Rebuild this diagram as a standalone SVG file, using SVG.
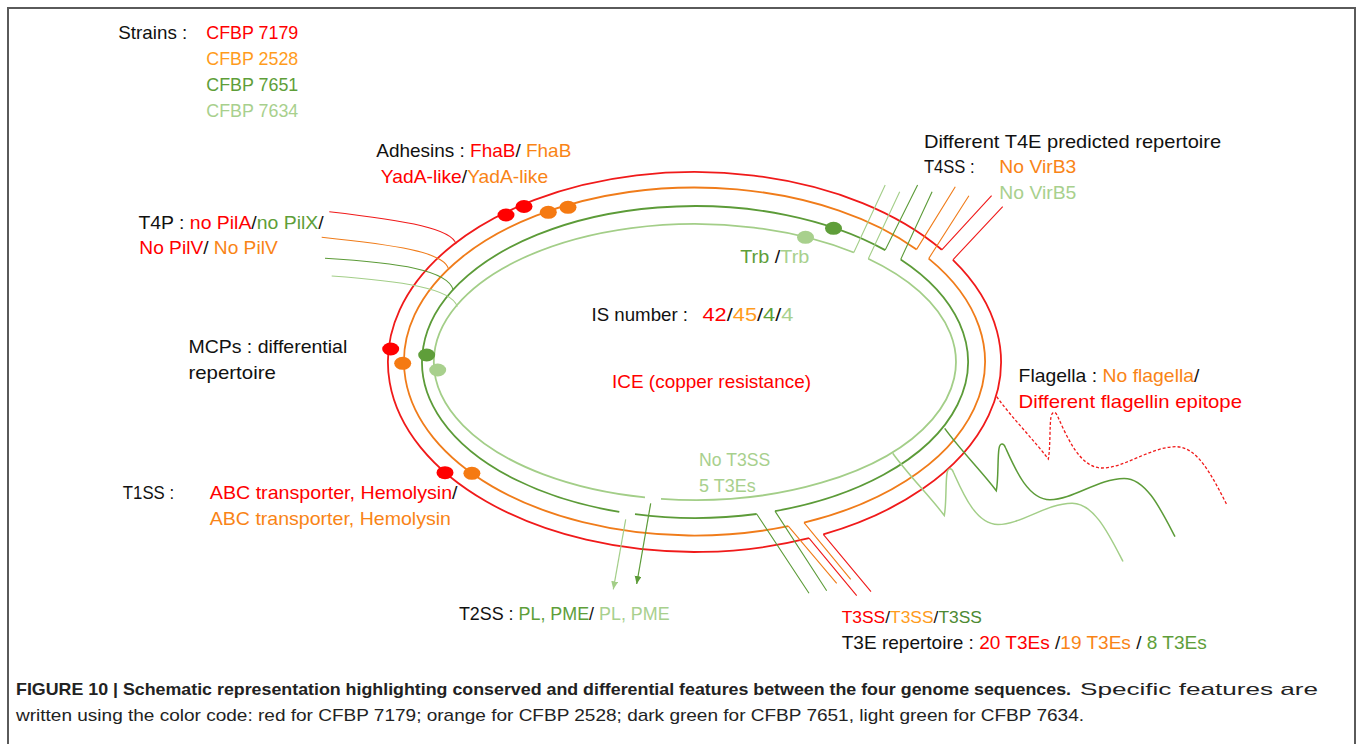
<svg xmlns="http://www.w3.org/2000/svg" width="1358" height="744" viewBox="0 0 1358 744">
<defs>
<style>
text{font-family:"Liberation Sans",Arial,sans-serif;font-size:19px;fill:#111}
.k{fill:#111}.r{fill:#ff0000}.o{fill:#f98416}.o2{fill:#ff9c1c}.g{fill:#5e9e39}.g2{fill:#4e8a33}.l{fill:#a8d08d}
.cap{font-family:"Liberation Sans Narrow","Liberation Sans",Arial,sans-serif;font-size:16.2px;fill:#222}
.ring{fill:none;stroke-width:1.8}
.br{fill:none;stroke-width:1.1}
.sr{stroke:#f01a1a}.so{stroke:#f07c1a}.sg{stroke:#5c9b38}.sl{stroke:#a3ce88}
.dr{fill:#ff0000}.do{fill:#f57a12}.dg{fill:#5f9e3a}.dl{fill:#a8d08d}
</style>
<marker id="ahL" markerUnits="userSpaceOnUse" markerWidth="9" markerHeight="8" refX="8" refY="3.5" orient="auto"><path d="M0,0 L8,3.5 L0,7 z" fill="#a3ce88"/></marker>
<marker id="ahG" markerUnits="userSpaceOnUse" markerWidth="9" markerHeight="8" refX="8" refY="3.5" orient="auto"><path d="M0,0 L8,3.5 L0,7 z" fill="#5c9b38"/></marker>
<path id="flag" d="M996.7,396.7 C1012,418 1034,440 1048.3,459 C1050.5,448 1049.5,425 1051,417 C1052,411 1055.5,411 1057.5,416 C1067,437 1080,468 1102,468 C1125,468 1150,447 1176,446.7 C1198,446.5 1213,478 1227,505"/>
</defs>
<rect width="1358" height="744" fill="#fff"/>
<path id="frame" d="M8,744 V8 H1355 V744" fill="none" stroke="#5a5a5a" stroke-width="2"/>

<g id="legend">
<text x="118.3" y="39" textLength="69" lengthAdjust="spacingAndGlyphs">Strains :</text>
<text x="206.3" y="39" class="r" textLength="92" lengthAdjust="spacingAndGlyphs">CFBP 7179</text>
<text x="206.3" y="65" class="o2" textLength="92" lengthAdjust="spacingAndGlyphs">CFBP 2528</text>
<text x="206.3" y="91" class="g" textLength="92" lengthAdjust="spacingAndGlyphs">CFBP 7651</text>
<text x="206.3" y="117" class="l" textLength="92" lengthAdjust="spacingAndGlyphs">CFBP 7634</text>
</g>

<g id="genome-rings">
<path id="ring-7179" class="ring sr" d="M941.8,249.8 A306.5,190 0 1 0 809,538.2 M823.3,534.4 A306.5,190 0 0 0 952.9,259.8"/>
<path id="ring-2528" class="ring so" d="M916.6,249.4 A290.5,174 0 1 0 788.3,526.2 M804,522.7 A290.5,174 0 0 0 928.7,258.6"/>
<path id="ring-7651" class="ring sg" d="M885.2,250.1 A273,156 0 1 0 619.3,511.9 M635,514.2 A273,156 0 0 0 756.7,514 M775,511.1 A273,156 0 0 0 900.7,259.4"/>
<path id="ring-7634" class="ring sl" d="M853.8,252.5 A261,138 0 1 0 645,497.4 M661,498.8 A261,138 0 0 0 868.3,258.8"/>
</g>

<g id="adhesins">
<text x="376.3" y="156.7" textLength="195" lengthAdjust="spacingAndGlyphs">Adhesins : <tspan class="r">FhaB</tspan>/ <tspan class="o">FhaB</tspan></text>
<text x="380.8" y="182.7" textLength="167.4" lengthAdjust="spacingAndGlyphs"><tspan class="r">YadA-like</tspan>/<tspan class="o">YadA-like</tspan></text>
<ellipse class="dr" cx="506" cy="215" rx="8.5" ry="6.5"/>
<ellipse class="dr" cx="524" cy="206.5" rx="8.5" ry="6.5"/>
<ellipse class="do" cx="548.3" cy="212.3" rx="8.5" ry="6.5"/>
<ellipse class="do" cx="568" cy="207.3" rx="8.5" ry="6.5"/>
</g>

<g id="t4p">
<text x="138.4" y="228.7" textLength="185.3" lengthAdjust="spacingAndGlyphs">T4P : <tspan class="r">no PilA</tspan>/<tspan class="g">no PilX</tspan>/</text>
<text x="139.3" y="254.3" textLength="138.4" lengthAdjust="spacingAndGlyphs"><tspan class="r">No PilV</tspan>/ <tspan class="o">No PilV</tspan></text>
<path class="br sr" d="M329.3,211.7 C410,221 452,229 456,244"/>
<path class="br so" d="M321.7,237.3 C395,245 443,252 448.3,268.3"/>
<path class="br sg" d="M325,258.3 C400,263 448,270 453.3,290"/>
<path class="br sl" d="M331.7,276 C400,281 452,288 457.3,306.7"/>
</g>

<g id="t4ss">
<text x="923.9" y="148.3" textLength="297.3" lengthAdjust="spacingAndGlyphs">Different T4E predicted repertoire</text>
<text x="923.9" y="172.7" textLength="50.7" lengthAdjust="spacingAndGlyphs">T4SS :</text>
<text x="999.3" y="172.7" class="o" textLength="77" lengthAdjust="spacingAndGlyphs">No VirB3</text>
<text x="999.3" y="198.7" class="l" textLength="77" lengthAdjust="spacingAndGlyphs">No VirB5</text>
<path class="br sr" d="M941.8,249.8 L991.6,195.7 M952.9,259.8 L1002.7,206.7"/>
<path class="br so" d="M916.6,249.4 L955.3,186.7 M928.7,258.6 L968.9,195.7"/>
<path class="br sg" d="M885.2,250.1 L917.6,185 M900.7,259.4 L932.1,191.7"/>
<path class="br sl" d="M853.8,252.5 L885.2,185 M868.3,258.8 L899.7,191.7"/>
</g>

<g id="trb">
<ellipse class="dg" cx="833.5" cy="228.3" rx="8.5" ry="6.5"/>
<ellipse class="dl" cx="805.5" cy="237.3" rx="8.5" ry="6.5"/>
<text x="740.2" y="263.3" textLength="69.1" lengthAdjust="spacingAndGlyphs"><tspan class="g">Trb</tspan> /<tspan class="l">Trb</tspan></text>
</g>

<g id="is-number">
<text x="591.5" y="320.7" textLength="96.5" lengthAdjust="spacingAndGlyphs">IS number :</text>
<text x="702.5" y="320.7" textLength="90.9" lengthAdjust="spacingAndGlyphs"><tspan class="r">42</tspan>/<tspan class="o2">45</tspan>/<tspan class="g">4</tspan>/<tspan class="l">4</tspan></text>
</g>

<g id="ice">
<text x="612" y="388.3" class="r" textLength="199" lengthAdjust="spacingAndGlyphs">ICE (copper resistance)</text>
</g>

<g id="mcps">
<text x="188.4" y="353.3" textLength="158.9" lengthAdjust="spacingAndGlyphs">MCPs : differential</text>
<text x="188.4" y="378.7" textLength="87.5" lengthAdjust="spacingAndGlyphs">repertoire</text>
<ellipse class="dr" cx="390.7" cy="349" rx="8.5" ry="6.5"/>
<ellipse class="do" cx="402.7" cy="363.3" rx="8.5" ry="6.5"/>
<ellipse class="dg" cx="426.7" cy="355" rx="8.5" ry="6.5"/>
<ellipse class="dl" cx="437.7" cy="370" rx="8.5" ry="6.5"/>
</g>

<g id="flagella">
<text x="1018.6" y="381.7" textLength="180.8" lengthAdjust="spacingAndGlyphs">Flagella : <tspan class="o">No flagella</tspan>/</text>
<text x="1018.6" y="408.3" class="r" textLength="223.4" lengthAdjust="spacingAndGlyphs">Different flagellin epitope</text>
<use href="#flag" fill="none" stroke="#f01a1a" stroke-width="1.3" stroke-dasharray="3 2"/>
<use href="#flag" fill="none" stroke="#5c9b38" stroke-width="1.5" transform="translate(-52,31.7)"/>
<use href="#flag" fill="none" stroke="#a3ce88" stroke-width="1.5" transform="translate(-104,56.5)"/>
</g>

<g id="t1ss">
<text x="122.8" y="499.3" textLength="51.3" lengthAdjust="spacingAndGlyphs">T1SS :</text>
<text x="209.8" y="499.3" textLength="247.8" lengthAdjust="spacingAndGlyphs"><tspan class="r">ABC transporter, Hemolysin</tspan>/</text>
<text x="209.8" y="525.3" class="o" textLength="241.1" lengthAdjust="spacingAndGlyphs">ABC transporter, Hemolysin</text>
<ellipse class="dr" cx="445" cy="472.7" rx="8.5" ry="6.5"/>
<ellipse class="do" cx="471.9" cy="473.3" rx="8.5" ry="6.5"/>
</g>

<g id="no-t3ss">
<text x="699.1" y="466" class="l" textLength="71.1" lengthAdjust="spacingAndGlyphs">No T3SS</text>
<text x="699.1" y="491.7" class="l" textLength="56.6" lengthAdjust="spacingAndGlyphs">5 T3Es</text>
</g>

<g id="t2ss">
<text x="458.9" y="620" style="font-size:17.8px" textLength="210.7" lengthAdjust="spacingAndGlyphs">T2SS : <tspan class="g">PL, PME</tspan>/ <tspan class="l">PL, PME</tspan></text>
</g>

<g id="t3ss">
<text x="841.7" y="623.3" style="font-size:17.4px" textLength="140.2" lengthAdjust="spacingAndGlyphs"><tspan class="r">T3SS</tspan>/<tspan class="o2">T3SS</tspan>/<tspan class="g2">T3SS</tspan></text>
<text x="841.7" y="649.3" textLength="365" lengthAdjust="spacingAndGlyphs">T3E repertoire : <tspan class="r">20 T3Es</tspan> /<tspan class="o">19 T3Es</tspan> / <tspan class="g">8 T3Es</tspan></text>
<path class="br sg" d="M756.7,514 L809,593.3 M775,511.1 L826.7,590.7"/>
<path class="br so" d="M788.3,526.2 L836.7,583.3 M804,522.7 L850.7,579.3"/>
<path class="br sr" d="M809,538.2 L856.7,595.7 M823.3,534.4 L871,591.7"/>
</g>

<g id="connectors">
<path d="M625.7,519.3 L613.3,589.3" fill="none" stroke="#a3ce88" stroke-width="1.2" marker-end="url(#ahL)"/>
<path d="M650.7,503.3 L636.7,584" fill="none" stroke="#5c9b38" stroke-width="1.2" marker-end="url(#ahG)"/>
</g>

<g id="caption">
<text class="cap" x="16" y="694.5" font-weight="bold" textLength="1055" lengthAdjust="spacingAndGlyphs">FIGURE 10 | Schematic representation highlighting conserved and differential features between the four genome sequences.</text>
<text class="cap" x="1080" y="694.5" textLength="238" lengthAdjust="spacingAndGlyphs">Specific features are</text>
<text class="cap" x="16" y="721" textLength="1068" lengthAdjust="spacingAndGlyphs">written using the color code: red for CFBP 7179; orange for CFBP 2528; dark green for CFBP 7651, light green for CFBP 7634.</text>
</g>
</svg>
